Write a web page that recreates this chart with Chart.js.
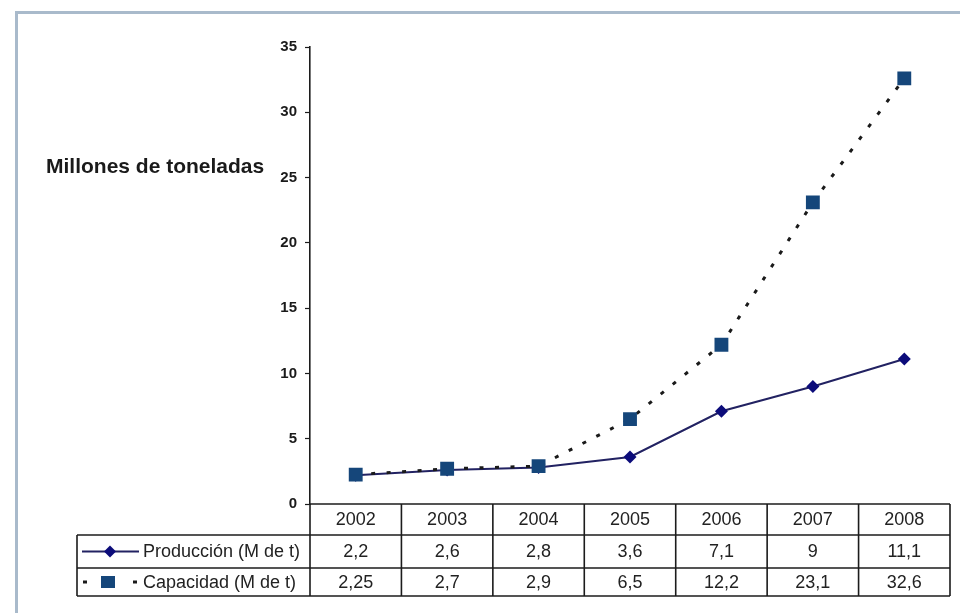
<!DOCTYPE html>
<html>
<head>
<meta charset="utf-8">
<script src="https://cdn.jsdelivr.net/npm/chart.js@4.4.1/dist/chart.umd.min.js"></script>
<style>
  html, body { margin: 0; padding: 0; background: #ffffff; }
  #wrap { position: relative; width: 960px; height: 613px; }
</style>
</head>
<body>
<div id="wrap"><canvas id="chart"></canvas></div>
<script>
// Production and capacity, millions of tonnes per year
const years = ['2002', '2003', '2004', '2005', '2006', '2007', '2008'];
const produccion = [2.2, 2.6, 2.8, 3.6, 7.1, 9, 11.1];
const capacidad = [2.25, 2.7, 2.9, 6.5, 12.2, 23.1, 32.6];
const yTickValues = [0, 5, 10, 15, 20, 25, 30, 35];
const seriesNames = ['Producción (M de t)', 'Capacidad (M de t)'];
const axisTitle = 'Millones de toneladas';

const FONT = '"Liberation Sans", Arial, Helvetica, sans-serif';
const PROD_LINE = '#222262';
const PROD_MARK = '#0c0c7a';
const CAP_LINE = '#1a1a1a';
const CAP_MARK = '#15467a';
const GRID = '#1c1c1c';

const fmt = v => String(v).replace('.', ',');

// Frame, axis caption and the data table under the x axis
const tablePlugin = {
  id: 'dataTable',
  afterDraw(chart) {
    const ctx = chart.ctx;
    const xs = chart.scales.x;
    const ys = chart.scales.y;
    const top = ys.bottom;
    const rows = [top, top + 31, top + 64, top + 92];
    const tableLeft = 77;
    const right = xs.right;
    const half = (xs.right - xs.left) / years.length / 2;

    ctx.save();
    // outer frame
    ctx.strokeStyle = '#a9bacb';
    ctx.lineWidth = 3;
    ctx.strokeRect(16.5, 12.5, 1000, 700);

    // axis caption
    ctx.fillStyle = '#1a1a1a';
    ctx.font = 'bold 21px ' + FONT;
    ctx.textAlign = 'left';
    ctx.textBaseline = 'middle';
    ctx.fillText(axisTitle, 46, 167);

    // table grid
    ctx.strokeStyle = GRID;
    ctx.lineWidth = 1.6;
    ctx.beginPath();
    ctx.moveTo(xs.left, rows[0]); ctx.lineTo(right, rows[0]);
    for (let r = 1; r < rows.length; r++) {
      ctx.moveTo(tableLeft, rows[r]); ctx.lineTo(right, rows[r]);
    }
    ctx.moveTo(tableLeft, rows[1]); ctx.lineTo(tableLeft, rows[3]);
    ctx.moveTo(xs.left, rows[0]); ctx.lineTo(xs.left, rows[3]);
    for (let i = 0; i < years.length; i++) {
      const xr = xs.getPixelForValue(i) + half;
      ctx.moveTo(xr, rows[0]); ctx.lineTo(xr, rows[3]);
    }
    ctx.stroke();

    // cell text
    ctx.fillStyle = '#222222';
    ctx.font = '18px ' + FONT;
    ctx.textAlign = 'center';
    ctx.textBaseline = 'middle';
    years.forEach((y, i) => {
      const cx = xs.getPixelForValue(i);
      ctx.fillText(y, cx, (rows[0] + rows[1]) / 2 + 1);
      ctx.fillText(fmt(produccion[i]), cx, (rows[1] + rows[2]) / 2 + 1);
      ctx.fillText(fmt(capacidad[i]), cx, (rows[2] + rows[3]) / 2 + 1);
    });

    // row labels with their series keys
    const yP = (rows[1] + rows[2]) / 2;
    const yC = (rows[2] + rows[3]) / 2;
    ctx.textAlign = 'left';
    ctx.fillText(seriesNames[0], 143, yP + 1);
    ctx.fillText(seriesNames[1], 143, yC + 1);

    ctx.strokeStyle = PROD_LINE;
    ctx.lineWidth = 2;
    ctx.beginPath();
    ctx.moveTo(82, yP); ctx.lineTo(139, yP);
    ctx.stroke();
    ctx.fillStyle = PROD_MARK;
    ctx.beginPath();
    ctx.moveTo(110 - 6, yP); ctx.lineTo(110, yP - 6);
    ctx.lineTo(110 + 6, yP); ctx.lineTo(110, yP + 6);
    ctx.closePath();
    ctx.fill();

    ctx.fillStyle = CAP_LINE;
    ctx.fillRect(83, yC - 1.5, 4, 3);
    ctx.fillRect(133, yC - 1.5, 4, 3);
    ctx.fillStyle = CAP_MARK;
    ctx.fillRect(101, yC - 6, 14, 12);
    ctx.restore();
  }
};

new Chart(document.getElementById('chart'), {
  type: 'line',
  data: {
    labels: years,
    datasets: [
      {
        label: seriesNames[1],
        data: capacidad,
        order: 0,
        borderColor: CAP_LINE,
        borderWidth: 3,
        borderDash: [4, 11.5],
        borderCapStyle: 'butt',
        pointStyle: 'rect',
        pointRadius: 9.8,
        pointBackgroundColor: CAP_MARK,
        pointBorderColor: CAP_MARK,
        pointBorderWidth: 0,
        tension: 0,
        fill: false
      },
      {
        label: seriesNames[0],
        data: produccion,
        order: 1,
        borderColor: PROD_LINE,
        borderWidth: 2,
        pointStyle: 'rectRot',
        pointRadius: 6.5,
        pointBackgroundColor: PROD_MARK,
        pointBorderColor: PROD_MARK,
        pointBorderWidth: 0,
        tension: 0,
        fill: false
      }
    ]
  },
  options: {
    responsive: true,
    maintainAspectRatio: false,
    animation: false,
    events: [],
    layout: { padding: { left: 0, top: 47, right: 10, bottom: 109 } },
    plugins: {
      legend: { display: false },
      tooltip: { enabled: false },
      title: { display: false }
    },
    scales: {
      x: {
        type: 'category',
        display: false,
        offset: true
      },
      y: {
        min: 0,
        max: 35,
        afterFit(scale) { scale.width = 310; },
        afterBuildTicks(scale) { scale.ticks = yTickValues.map(v => ({ value: v })); },
        border: { display: true, color: GRID, width: 1.6 },
        grid: {
          drawOnChartArea: false,
          drawTicks: true,
          tickLength: 5,
          tickColor: GRID,
          tickWidth: 1.2
        },
        ticks: {
          padding: 8,
          color: '#1a1a1a',
          font: { family: FONT, size: 15, weight: 'bold' }
        }
      }
    }
  },
  plugins: [tablePlugin]
});
</script>
</body>
</html>
